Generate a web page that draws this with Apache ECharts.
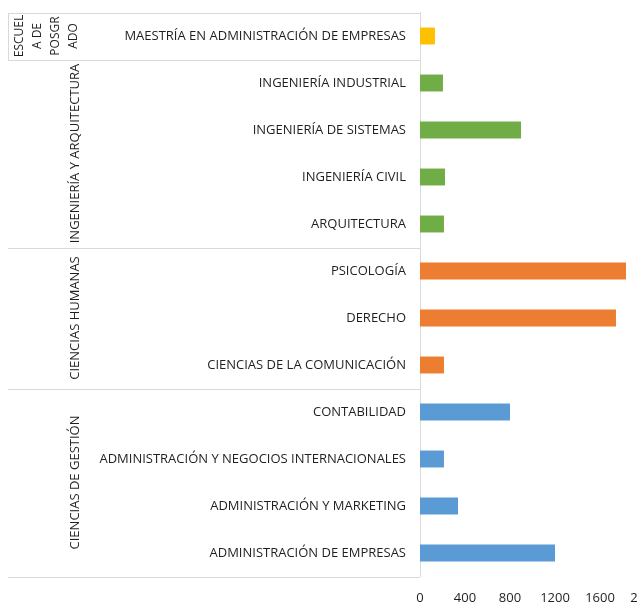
<!DOCTYPE html>
<html>
<head>
<meta charset="utf-8">
<script src="https://cdn.jsdelivr.net/npm/echarts@6/dist/echarts.min.js"></script>
<style>html,body{margin:0;padding:0;background:#fff}#c{width:638px;height:606px}</style>
</head>
<body>
<div id="c"></div>
<script>
// Categories, top to bottom
const categories = [
  'MAESTRÍA EN ADMINISTRACIÓN DE EMPRESAS',
  'INGENIERÍA INDUSTRIAL',
  'INGENIERÍA DE SISTEMAS',
  'INGENIERÍA CIVIL',
  'ARQUITECTURA',
  'PSICOLOGÍA',
  'DERECHO',
  'CIENCIAS DE LA COMUNICACIÓN',
  'CONTABILIDAD',
  'ADMINISTRACIÓN Y NEGOCIOS INTERNACIONALES',
  'ADMINISTRACIÓN Y MARKETING',
  'ADMINISTRACIÓN DE EMPRESAS'
];
const values = [133, 204, 898, 222, 213, 1831, 1742, 213, 800, 213, 338, 1200];
const groupLabels = ['ESCUEL\nA DE\nPOSGR\nADO', 'INGENIERÍA Y ARQUITECTURA', 'CIENCIAS HUMANAS', 'CIENCIAS DE GESTIÓN'];
const groupSizes = [1, 4, 3, 4];
const groupColors = ['#FFC000', '#70AD47', '#ED7D31', '#5B9BD5'];
const xTicks = [0, 400, 800, 1200, 1600, 2000];

const FONT = 'Open Sans';
const TEXT = '#1f1f1f';
const LINE = '#d9d9d9';

// colour for each category from its group
const itemColors = [];
groupSizes.forEach((n, g) => { for (let i = 0; i < n; i++) itemColors.push(groupColors[g]); });

const chart = echarts.init(document.getElementById('c'));
chart.setOption({
  animation: false,
  grid: { left: 420, right: -7, top: 12.5, bottom: 29.5, outerBoundsMode: 'none', containLabel: false },
  xAxis: {
    type: 'value', min: xTicks[0], max: xTicks[xTicks.length - 1], interval: xTicks[1] - xTicks[0],
    axisLine: { show: false }, axisTick: { show: false }, splitLine: { show: false },
    axisLabel: { color: TEXT, fontFamily: FONT, fontSize: 13, margin: 15, formatter: v => String(v) }
  },
  yAxis: {
    type: 'category', data: categories, inverse: true,
    axisLine: { show: true, lineStyle: { color: LINE, width: 1 } },
    axisTick: { show: false },
    axisLabel: { color: TEXT, fontFamily: FONT, fontSize: 13, margin: 14 }
  },
  series: [{
    type: 'bar',
    barWidth: '36%',
    data: values.map((v, i) => ({ value: v, itemStyle: { color: itemColors[i] } }))
  }]
});

// group labels and separators from the axis scale
const centers = categories.map(c => chart.convertToPixel({ yAxisIndex: 0 }, c));
const band = centers[1] - centers[0];
const axisX = chart.convertToPixel({ xAxisIndex: 0 }, 0);
const leftX = 8;
const els = [];
let start = 0;
const bounds = [centers[0] - band / 2];
groupSizes.forEach((n, g) => {
  const top = centers[start] - band / 2;
  const bottom = centers[start + n - 1] + band / 2;
  bounds.push(bottom);
  const cx = g === 0 ? axisX - 373 : axisX - 345;
  const fs = g === 0 ? 12 : 13;
  els.push({
    type: 'text', x: cx, y: (top + bottom) / 2, rotation: Math.PI / 2,
    style: { text: groupLabels[g], fill: TEXT, font: fs + 'px "' + FONT + '"', align: 'center', verticalAlign: 'middle', lineHeight: 18 }
  });
  start += n;
});
bounds.forEach(y => {
  els.push({ type: 'line', shape: { x1: leftX, y1: Math.round(y) + 0.5, x2: axisX, y2: Math.round(y) + 0.5 }, style: { stroke: LINE, lineWidth: 1 } });
});
els.push({ type: 'line', shape: { x1: leftX + 0.5, y1: Math.round(bounds[0]) + 0.5, x2: leftX + 0.5, y2: Math.round(bounds[1]) + 0.5 }, style: { stroke: LINE, lineWidth: 1 } });
chart.setOption({ graphic: { elements: els } });
</script>
</body>
</html>
